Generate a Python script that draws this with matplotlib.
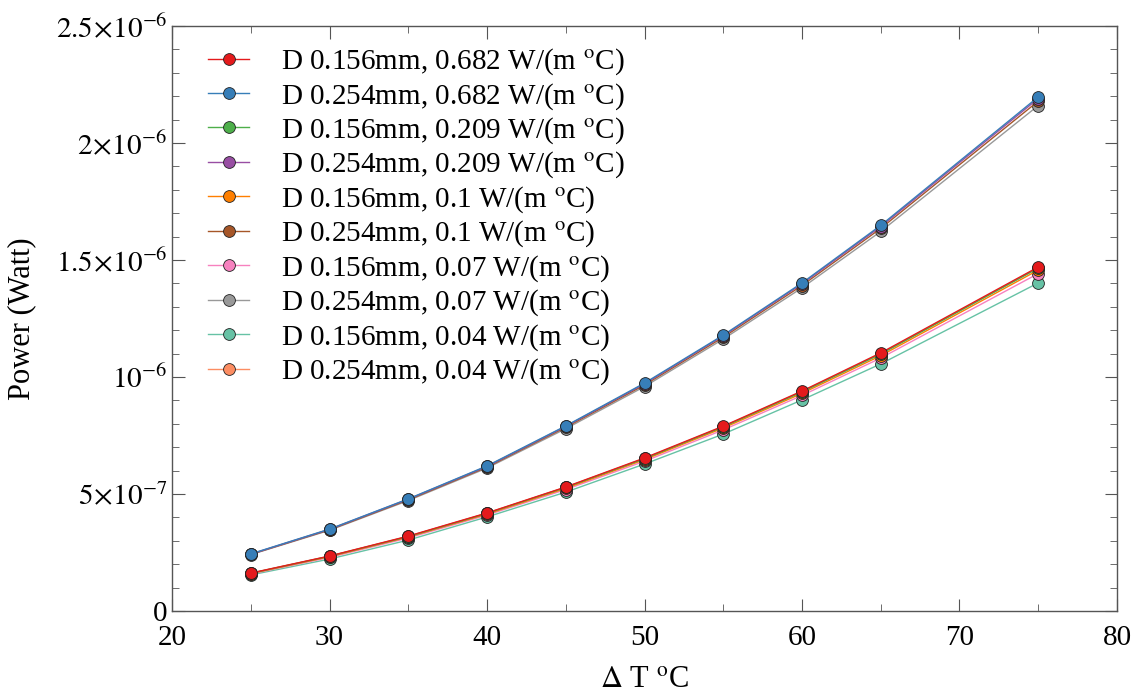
import matplotlib
matplotlib.use('Agg')
from matplotlib import pyplot as plt
from matplotlib.ticker import FixedLocator, MultipleLocator

plt.rcParams['font.family'] = ['Liberation Serif', 'DejaVu Serif']
plt.rcParams['mathtext.fontset'] = 'stix'

# delta T (degC)
dT = [25, 30, 35, 40, 45, 50, 55, 60, 65, 75]

# power in microwatt
p_156_0682 = [0.162, 0.235, 0.320, 0.419, 0.530, 0.654, 0.790, 0.940, 1.103, 1.470]
p_254_0682 = [0.244, 0.350, 0.479, 0.620, 0.791, 0.974, 1.179, 1.402, 1.648, 2.197]
p_156_0209 = [0.161, 0.234, 0.318, 0.417, 0.528, 0.651, 0.787, 0.936, 1.098, 1.465]
p_254_0209 = [0.243, 0.349, 0.478, 0.618, 0.789, 0.971, 1.176, 1.398, 1.643, 2.190]
p_156_01 = [0.160, 0.232, 0.316, 0.414, 0.524, 0.647, 0.782, 0.930, 1.091, 1.457]
p_254_01 = [0.242, 0.347, 0.475, 0.615, 0.785, 0.966, 1.170, 1.391, 1.635, 2.179]
p_156_007 = [0.158, 0.229, 0.312, 0.410, 0.519, 0.640, 0.774, 0.921, 1.081, 1.442]
p_254_007 = [0.241, 0.345, 0.472, 0.611, 0.779, 0.959, 1.162, 1.381, 1.622, 2.160]
p_156_004 = [0.154, 0.222, 0.303, 0.402, 0.508, 0.628, 0.756, 0.902, 1.056, 1.402]
p_254_004 = [0.161, 0.234, 0.319, 0.418, 0.529, 0.652, 0.788, 0.938, 1.100, 1.467]

labels = [
    'D 0.156mm, 0.682 W/(m $^{\\mathrm{o}}$C)',
    'D 0.254mm, 0.682 W/(m $^{\\mathrm{o}}$C)',
    'D 0.156mm, 0.209 W/(m $^{\\mathrm{o}}$C)',
    'D 0.254mm, 0.209 W/(m $^{\\mathrm{o}}$C)',
    'D 0.156mm, 0.1 W/(m $^{\\mathrm{o}}$C)',
    'D 0.254mm, 0.1 W/(m $^{\\mathrm{o}}$C)',
    'D 0.156mm, 0.07 W/(m $^{\\mathrm{o}}$C)',
    'D 0.254mm, 0.07 W/(m $^{\\mathrm{o}}$C)',
    'D 0.156mm, 0.04 W/(m $^{\\mathrm{o}}$C)',
    'D 0.254mm, 0.04 W/(m $^{\\mathrm{o}}$C)',
]
series = [p_156_0682, p_254_0682, p_156_0209, p_254_0209, p_156_01,
          p_254_01, p_156_007, p_254_007, p_156_004, p_254_004]
colors = ['#e41a1c', '#377eb8', '#4daf4a', '#984ea3', '#ff7f00',
          '#a65628', '#f781bf', '#999999', '#66c2a5', '#fc8d62']

fig = plt.figure(figsize=(11.37, 6.97), dpi=100)
ax = fig.add_axes([0.1513, 0.1234, 0.8311, 0.8393])

for i, (vals, c, lab) in enumerate(zip(series, colors, labels)):
    ax.plot(dT, [v * 1e-6 for v in vals], color=c, lw=1.0, marker='o',
            markersize=8.5, markerfacecolor=c, markeredgecolor='#222222',
            markeredgewidth=0.6, label=lab, zorder=20 - i)

ax.set_xlim(20, 80)
ax.set_ylim(0, 2.5e-6)
ax.xaxis.set_major_locator(MultipleLocator(10))
ax.xaxis.set_minor_locator(MultipleLocator(5))
yt = [0, 5e-7, 1e-6, 1.5e-6, 2e-6, 2.5e-6]
ax.yaxis.set_major_locator(FixedLocator(yt))
ax.yaxis.set_minor_locator(MultipleLocator(1e-7))
ax.set_yticklabels(['0', r'$5\!\times\!10^{-7}$', r'$10^{-6}$',
                    r'$1.5\!\times\!10^{-6}$', r'$2\!\times\!10^{-6}$',
                    r'$2.5\!\times\!10^{-6}$'])

for s in ax.spines.values():
    s.set_color('#555555')
    s.set_linewidth(1.0)
ax.tick_params(which='both', direction='in', top=True, right=True,
               color='#555555', labelsize=21)
ax.tick_params(which='major', length=9, width=0.8)
ax.tick_params(which='minor', length=5, width=0.6)
ax.tick_params(axis='x', pad=10)

ax.set_xlabel(r'$\Delta$ T $^{\mathrm{o}}$C', fontsize=22, labelpad=11)
ax.set_ylabel('Power (Watt)', fontsize=22, labelpad=14)

ax.legend(loc='upper left', bbox_to_anchor=(0.02, 0.995), frameon=False,
          fontsize=21, handlelength=1.4, handletextpad=1.1,
          labelspacing=0.13, borderaxespad=0.2)

plt.savefig('out.png', dpi=100)
